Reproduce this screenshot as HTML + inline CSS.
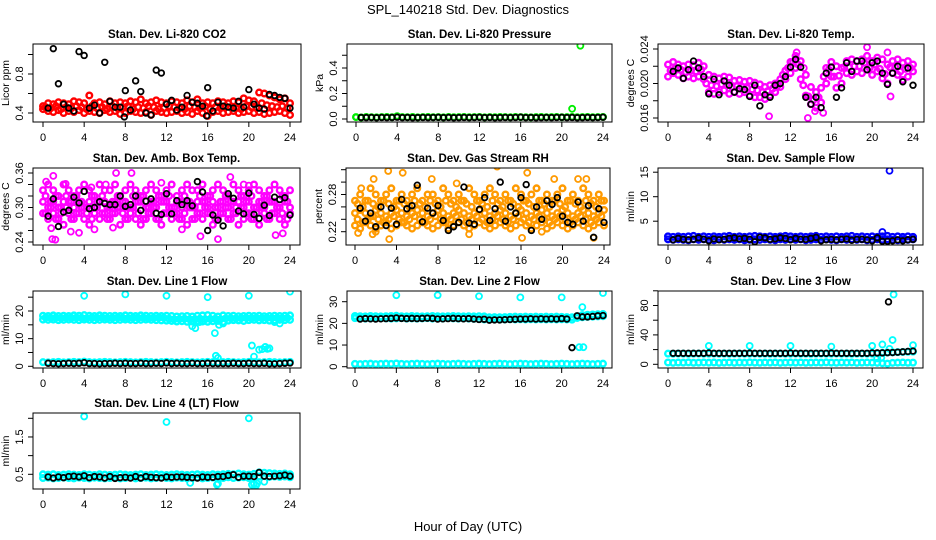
<!DOCTYPE html>
<html><head><meta charset="utf-8"><style>
html,body{margin:0;padding:0;background:#fff}
svg{display:block;font-family:"Liberation Sans",Arial,sans-serif}
</style></head><body>
<svg id="chart" width="936" height="540" viewBox="0 0 936 540">
<rect width="936" height="540" fill="#fff"/>
<text x="468" y="14" text-anchor="middle" font-size="13">SPL_140218  Std. Dev. Diagnostics</text>
<text x="468" y="531" text-anchor="middle" font-size="13">Hour of Day (UTC)</text>
</svg>
<script>
// shared x categories (hours)
const hoursA = [0,0.5,1,1.5,2,2.5,3,3.5,4,4.5,5,5.5,6,6.5,7,7.5,8,8.5,9,9.5,10,10.5,11,11.5,12,12.5,13,13.5,14,14.5,15,15.5,16,16.5,17,17.5,18,18.5,19,19.5,20,20.5,21,21.5,22,22.5,23,23.5,24];
const hoursK = [0.5,1,1.5,2,2.5,3,3.5,4,4.5,5,5.5,6,6.5,7,7.5,8,8.5,9,9.5,10,10.5,11,11.5,12,12.5,13,13.5,14,14.5,15,15.5,16,16.5,17,17.5,18,18.5,19,19.5,20,20.5,21,21.5,22,22.5,23,23.5,24];
const hoursQ = [0.25,0.75,1.25,1.75,2.25,2.75,3.25,3.75,4.25,4.75,5.25,5.75,6.25,6.75,7.25,7.75,8.25,8.75,9.25,9.75,10.25,10.75,11.25,11.75,12.25,12.75,13.25,13.75,14.25,14.75,15.25,15.75,16.25,16.75,17.25,17.75,18.25,18.75,19.25,19.75,20.25,20.75,21.25,21.75,22.25,22.75,23.25,23.75];
const xTicks = [0,4,8,12,16,20,24];

// P1 CO2
const co2Hi = [0.47,0.50,0.49,0.51,0.50,0.49,0.52,0.51,0.50,0.58,0.50,0.51,0.49,0.52,0.50,0.51,0.50,0.52,0.51,0.54,0.50,0.51,0.53,0.51,0.50,0.52,0.51,0.50,0.53,0.51,0.54,0.50,0.51,0.50,0.52,0.51,0.50,0.52,0.51,0.55,0.53,0.52,0.61,0.60,0.58,0.56,0.54,0.55,0.50];
const co2Lo = [0.44,0.42,0.41,0.43,0.40,0.42,0.41,0.43,0.40,0.42,0.41,0.40,0.43,0.41,0.42,0.39,0.40,0.42,0.41,0.40,0.41,0.38,0.42,0.41,0.40,0.41,0.42,0.40,0.41,0.39,0.42,0.40,0.37,0.41,0.42,0.40,0.41,0.42,0.40,0.41,0.42,0.40,0.41,0.39,0.40,0.41,0.42,0.40,0.38];
const co2Q = [0.46,0.45,0.47,0.44,0.46,0.45,0.47,0.46,0.44,0.47,0.45,0.46,0.44,0.47,0.45,0.46,0.47,0.44,0.46,0.45,0.47,0.46,0.44,0.45,0.47,0.46,0.45,0.44,0.47,0.46,0.45,0.47,0.44,0.46,0.45,0.47,0.46,0.45,0.44,0.47,0.46,0.45,0.50,0.48,0.47,0.46,0.47,0.45];
const co2Black = [0.45,1.06,0.70,0.49,0.45,0.42,1.03,0.99,0.45,0.48,0.40,0.92,0.52,0.46,0.46,0.63,0.43,0.73,0.62,0.40,0.38,0.84,0.81,0.49,0.53,0.43,0.46,0.58,0.51,0.50,0.47,0.66,0.42,0.51,0.47,0.46,0.45,0.52,0.46,0.64,0.49,0.45,0.44,0.59,0.58,0.56,0.55,0.45];
const co2OutT = [7.9,15.9];
const co2OutV = [0.36,0.37];
// P2 Pressure
const presCol = [0.015,0.012,0.016,0.014,0.013,0.015,0.016,0.014,0.022,0.015,0.014,0.016,0.013,0.015,0.016,0.014,0.015,0.013,0.016,0.014,0.015,0.016,0.014,0.015,0.016,0.013,0.015,0.014,0.016,0.015,0.014,0.016,0.015,0.014,0.013,0.015,0.016,0.014,0.015,0.016,0.014,0.015,0.016,0.014,0.015,0.016,0.014,0.015,0.016];
const presBlack = [0.012,0.011,0.012,0.010,0.012,0.011,0.012,0.014,0.011,0.012,0.010,0.011,0.012,0.011,0.012,0.013,0.011,0.012,0.010,0.011,0.012,0.011,0.012,0.013,0.011,0.012,0.010,0.011,0.012,0.011,0.012,0.014,0.011,0.012,0.010,0.011,0.012,0.011,0.012,0.013,0.011,0.012,0.010,0.011,0.012,0.011,0.012,0.014];
const presOutT = [21.0,21.8];
const presOutV = [0.08,0.575];
// P3 Li-820 temp
const ltHi = [0.0222,0.0225,0.0222,0.0220,0.0222,0.0221,0.0224,0.0220,0.0210,0.0208,0.0206,0.0208,0.0207,0.0203,0.0204,0.0202,0.0203,0.0201,0.0199,0.0196,0.0198,0.0200,0.0205,0.0215,0.0225,0.0232,0.0226,0.0210,0.0196,0.0190,0.0195,0.0218,0.0225,0.0220,0.0218,0.0226,0.0228,0.0226,0.0228,0.0232,0.0226,0.0230,0.0228,0.0222,0.0226,0.0228,0.0224,0.0226,0.0222];
const ltLo = [0.0208,0.0212,0.0210,0.0206,0.0208,0.0206,0.0208,0.0205,0.0190,0.0188,0.0190,0.0192,0.0188,0.0190,0.0188,0.0190,0.0186,0.0184,0.0184,0.0182,0.0186,0.0190,0.0196,0.0205,0.0212,0.0218,0.0205,0.0186,0.0176,0.0172,0.0178,0.0200,0.0208,0.0195,0.0200,0.0212,0.0210,0.0214,0.0212,0.0216,0.0210,0.0214,0.0206,0.0200,0.0212,0.0210,0.0204,0.0208,0.0214];
const ltQ = [0.0215,0.0218,0.0216,0.0213,0.0215,0.0214,0.0216,0.0200,0.0198,0.0197,0.0199,0.0198,0.0196,0.0197,0.0196,0.0195,0.0193,0.0192,0.0190,0.0191,0.0194,0.0198,0.0210,0.0218,0.0225,0.0222,0.0198,0.0185,0.0181,0.0184,0.0208,0.0216,0.0208,0.0209,0.0219,0.0219,0.0220,0.0220,0.0224,0.0218,0.0222,0.0217,0.0211,0.0219,0.0219,0.0214,0.0217,0.0218];
const ltBlack = [0.0214,0.0218,0.0206,0.0216,0.0226,0.0218,0.0208,0.0188,0.0205,0.0187,0.0203,0.0198,0.0190,0.0194,0.0193,0.0185,0.0198,0.0174,0.0187,0.0184,0.0198,0.0200,0.0208,0.0219,0.0228,0.0219,0.0184,0.0176,0.0184,0.0172,0.0212,0.0219,0.0184,0.0195,0.0224,0.0214,0.0226,0.0226,0.0216,0.0224,0.0226,0.0212,0.0199,0.0212,0.0220,0.0202,0.0218,0.0198];
const ltOutT = [9.9,13.7,19.5,12.6,21.5,15.2,14.4,21.8,13.3];
const ltOutV = [0.0162,0.0160,0.0242,0.0236,0.0236,0.0166,0.0168,0.0185,0.0218];
// P4 Amb box temp
const abHi = [0.33,0.34,0.33,0.32,0.34,0.33,0.32,0.33,0.34,0.33,0.32,0.34,0.33,0.33,0.34,0.32,0.33,0.34,0.33,0.32,0.33,0.34,0.33,0.32,0.33,0.34,0.32,0.33,0.34,0.33,0.33,0.34,0.32,0.33,0.34,0.33,0.32,0.34,0.33,0.32,0.33,0.34,0.33,0.32,0.33,0.34,0.33,0.32,0.33];
const abMid = [0.31,0.30,0.31,0.30,0.31,0.31,0.30,0.31,0.30,0.31,0.30,0.31,0.31,0.30,0.31,0.30,0.31,0.30,0.31,0.31,0.30,0.31,0.30,0.31,0.31,0.30,0.31,0.30,0.31,0.30,0.31,0.31,0.30,0.31,0.30,0.31,0.30,0.31,0.31,0.30,0.31,0.30,0.31,0.30,0.31,0.31,0.30,0.31,0.30];
const abLo = [0.29,0.28,0.29,0.28,0.27,0.29,0.28,0.29,0.28,0.27,0.29,0.28,0.29,0.28,0.29,0.27,0.28,0.29,0.28,0.27,0.28,0.29,0.28,0.27,0.29,0.28,0.29,0.28,0.27,0.28,0.29,0.28,0.29,0.27,0.28,0.29,0.28,0.29,0.27,0.28,0.29,0.28,0.27,0.29,0.28,0.29,0.28,0.27,0.29];
const abQ1 = [0.32,0.31,0.32,0.30,0.32,0.31,0.32,0.31,0.30,0.32,0.31,0.32,0.30,0.31,0.32,0.31,0.30,0.32,0.31,0.32,0.30,0.31,0.32,0.31,0.32,0.30,0.31,0.32,0.31,0.30,0.32,0.31,0.32,0.30,0.31,0.32,0.31,0.30,0.32,0.31,0.32,0.30,0.31,0.32,0.31,0.30,0.32,0.31];
const abQ2 = [0.29,0.30,0.28,0.29,0.30,0.28,0.29,0.30,0.29,0.28,0.30,0.29,0.28,0.29,0.30,0.29,0.28,0.30,0.29,0.28,0.29,0.30,0.28,0.29,0.30,0.29,0.28,0.29,0.30,0.28,0.29,0.30,0.29,0.28,0.29,0.30,0.28,0.29,0.30,0.29,0.28,0.29,0.30,0.28,0.29,0.30,0.29,0.28];
const abBlack = [0.285,0.315,0.267,0.292,0.295,0.318,0.308,0.328,0.298,0.300,0.310,0.307,0.305,0.305,0.320,0.302,0.305,0.320,0.295,0.311,0.315,0.290,0.288,0.324,0.289,0.312,0.305,0.312,0.303,0.345,0.327,0.260,0.287,0.278,0.268,0.324,0.316,0.294,0.289,0.325,0.288,0.281,0.304,0.286,0.318,0.314,0.317,0.287];
const abOutT = [0.3,1.0,0.9,1.2,2.2,2.7,3.5,4.7,6.1,7.1,8.6,5.0,11.5,15.3,17.0,18.2,19.5,22.6,23.3,20.0,0.8,6.8,13.5];
const abOutV = [0.345,0.355,0.245,0.244,0.341,0.258,0.256,0.335,0.340,0.360,0.360,0.262,0.343,0.250,0.245,0.353,0.340,0.252,0.255,0.338,0.264,0.265,0.262];
// P5 Gas stream RH
const rhHi = [0.27,0.28,0.27,0.29,0.28,0.27,0.28,0.29,0.27,0.28,0.27,0.28,0.29,0.27,0.28,0.28,0.27,0.29,0.28,0.27,0.28,0.27,0.29,0.28,0.27,0.28,0.29,0.28,0.27,0.28,0.27,0.29,0.28,0.27,0.28,0.29,0.27,0.28,0.27,0.28,0.29,0.27,0.28,0.27,0.29,0.28,0.27,0.28,0.27];
const rhMid = [0.25,0.255,0.25,0.245,0.255,0.25,0.245,0.25,0.255,0.25,0.245,0.25,0.255,0.25,0.245,0.25,0.255,0.25,0.245,0.25,0.255,0.25,0.245,0.25,0.255,0.25,0.245,0.25,0.255,0.25,0.245,0.25,0.255,0.25,0.245,0.25,0.255,0.25,0.245,0.25,0.255,0.25,0.245,0.25,0.255,0.25,0.245,0.25,0.255];
const rhLo = [0.23,0.225,0.235,0.23,0.225,0.23,0.235,0.225,0.23,0.235,0.23,0.225,0.23,0.235,0.23,0.225,0.23,0.235,0.225,0.23,0.235,0.23,0.225,0.23,0.235,0.23,0.225,0.23,0.235,0.23,0.225,0.23,0.235,0.23,0.225,0.23,0.235,0.225,0.23,0.235,0.23,0.225,0.23,0.235,0.23,0.225,0.23,0.235,0.23];
const rhQ1 = [0.265,0.26,0.27,0.265,0.26,0.27,0.265,0.26,0.27,0.265,0.26,0.27,0.265,0.26,0.27,0.265,0.26,0.27,0.265,0.26,0.27,0.265,0.26,0.27,0.265,0.26,0.27,0.265,0.26,0.27,0.265,0.26,0.27,0.265,0.26,0.27,0.265,0.26,0.27,0.265,0.26,0.27,0.265,0.26,0.27,0.265,0.26,0.27];
const rhQ2 = [0.24,0.235,0.24,0.245,0.24,0.235,0.24,0.245,0.24,0.235,0.24,0.245,0.24,0.235,0.24,0.245,0.24,0.235,0.24,0.245,0.24,0.235,0.24,0.245,0.24,0.235,0.24,0.245,0.24,0.235,0.24,0.245,0.24,0.235,0.24,0.245,0.24,0.235,0.24,0.245,0.24,0.235,0.24,0.245,0.24,0.235,0.24,0.245];
const rhBlack = [0.258,0.237,0.25,0.228,0.26,0.23,0.258,0.232,0.272,0.257,0.262,0.295,0.236,0.258,0.25,0.262,0.238,0.222,0.228,0.235,0.292,0.234,0.232,0.256,0.275,0.238,0.257,0.30,0.237,0.26,0.25,0.275,0.296,0.222,0.26,0.24,0.27,0.264,0.275,0.245,0.235,0.232,0.268,0.237,0.262,0.211,0.257,0.235];
const rhOutT = [3.2,4.6,1.8,7.4,13.7,16.6,22.3,3.3,0.3,1.7,11.0,16.1,23.0,9.8,21.5,19.2,2.0,18.0,0.6];
const rhOutV = [0.318,0.315,0.305,0.305,0.325,0.315,0.305,0.208,0.218,0.216,0.216,0.210,0.210,0.298,0.305,0.305,0.22,0.22,0.29];
// P6 Sample flow
const sfHi = [1.9,1.8,1.9,1.8,1.9,2.0,1.8,1.9,1.8,1.9,1.8,1.9,2.0,1.8,1.9,1.8,1.9,2.0,1.9,1.8,1.9,1.8,1.9,2.0,1.9,1.8,1.9,1.8,1.9,2.0,1.8,1.9,1.8,1.9,1.8,1.9,2.0,1.8,1.9,1.8,1.9,1.8,1.9,2.0,1.8,1.9,1.8,1.9,1.8];
const sfLo = [1.3,1.2,1.3,1.2,1.1,1.3,1.2,1.3,1.2,1.1,1.3,1.2,1.3,1.2,1.3,1.1,1.2,1.3,1.2,1.3,1.2,1.1,1.3,1.2,1.3,1.2,1.3,1.1,1.2,1.3,1.2,1.3,1.2,1.1,1.3,1.2,1.3,1.2,1.3,1.1,1.2,1.3,1.2,1.3,1.2,1.1,1.3,1.2,1.3];
const sfBlack = [1.2,1.5,1.3,1.2,1.3,1.6,1.3,1.0,1.4,1.2,1.3,1.5,1.6,1.4,1.5,1.3,0.8,1.7,1.6,1.3,1.4,1.6,1.5,1.2,1.5,1.3,1.3,1.5,1.7,1.0,1.2,1.3,1.2,1.3,1.4,1.1,1.3,1.3,1.2,1.0,1.6,0.9,0.9,1.0,1.2,1.0,1.2,1.3];
const sfOutT = [21.0,21.7];
const sfOutV = [2.8,15.3];
// P7 Line 1 flow
const l1Hi = [18.3,18.2,18.4,18.2,18.3,18.2,18.4,18.3,18.5,18.3,18.2,18.4,18.3,18.2,18.3,18.2,18.4,18.3,18.2,18.4,18.3,18.2,18.3,18.2,18.3,18.2,18.0,18.1,18.2,18.0,18.3,18.4,18.5,18.3,18.0,18.4,18.2,18.3,18.1,18.2,18.3,18.2,18.3,18.1,18.2,18.3,18.2,18.3,18.4];
const l1Lo = [16.9,16.8,16.9,16.7,16.8,16.9,16.8,16.7,16.9,16.8,16.7,16.8,16.9,16.8,16.7,16.8,16.9,16.8,16.7,16.8,16.9,16.8,16.7,16.6,16.5,16.4,16.2,16.3,16.1,16.2,16.4,16.2,16.1,16.3,16.4,16.0,16.5,16.7,16.6,16.4,16.7,16.8,16.6,16.7,16.5,16.6,16.8,16.7,16.8];
const l1Low = [1.5,1.4,1.5,1.6,1.4,1.5,1.6,1.5,1.7,1.5,1.4,1.5,1.6,1.5,1.4,1.5,1.6,1.5,1.4,1.5,1.6,1.5,1.4,1.5,1.6,1.5,1.4,1.5,1.6,1.5,1.4,1.5,1.6,1.5,1.4,1.5,1.6,1.5,1.4,1.5,1.6,1.5,1.4,1.5,1.6,1.5,1.4,1.5,1.6];
const l1Q = [17.6,17.5,17.6,17.4,17.6,17.5,17.6,17.5,17.4,17.6,17.5,17.6,17.4,17.5,17.6,17.5,17.4,17.6,17.5,17.6,17.4,17.5,17.6,17.5,17.2,17.0,17.1,17.2,17.0,17.1,17.2,17.0,17.1,17.2,17.0,17.3,17.4,17.3,17.4,17.5,17.4,17.5,17.4,17.5,17.4,17.5,17.4,17.5];
const l1Black = [1.1,1.0,0.9,1.0,1.1,1.0,1.1,1.3,1.0,1.0,0.9,1.0,1.0,1.1,1.0,1.1,1.0,1.0,1.1,1.0,1.0,1.1,1.0,1.2,1.0,1.1,1.0,1.0,1.1,1.0,1.0,1.1,1.0,1.0,1.0,1.0,1.1,1.0,1.0,1.1,1.0,1.0,1.1,0.9,0.9,1.0,1.1,1.2];
const l1OutT = [4,8,12,16,20,24,14.5,14.8,16.7,16.8,17.0,20.3,20.5,21.0,21.3,21.6,22.0,22.5,17.5,17.1,15.2,23.0,21.8];
const l1OutV = [25.5,26,25.5,25,25.5,27,14.5,13.8,12,3.8,3.0,7.5,3.5,6.0,6.2,7.0,6.5,16,15.5,15,16,15.5,6.3];
// P8 Line 2 flow
const l2Hi = [23.4,23.3,23.2,23.4,23.3,23.2,23.3,23.4,23.5,23.3,23.2,23.4,23.3,23.2,23.3,23.4,23.3,23.2,23.3,23.4,23.3,23.2,23.3,23.2,23.3,23.2,22.8,22.9,22.8,22.9,23.0,23.1,23.0,23.1,23.0,23.1,23.0,23.1,23.0,23.1,23.0,22.9,22.8,23.3,23.8,24.0,24.1,24.2,24.3];
const l2Lo = [22.4,22.3,22.2,22.3,22.2,22.4,22.3,22.2,22.3,22.4,22.2,22.3,22.2,22.3,22.4,22.2,22.3,22.2,22.4,22.3,22.2,22.3,22.2,22.1,22.0,21.8,21.7,21.8,21.7,21.8,21.9,21.8,21.9,21.8,21.9,21.8,21.9,21.8,21.9,21.8,21.9,21.8,21.7,22.5,22.8,23.0,23.1,23.2,23.3];
const l2Low = [1.3,1.2,1.3,1.4,1.2,1.3,1.4,1.3,1.5,1.3,1.2,1.3,1.4,1.3,1.2,1.3,1.4,1.3,1.2,1.3,1.4,1.3,1.2,1.3,1.4,1.3,1.2,1.3,1.4,1.3,1.2,1.3,1.4,1.3,1.2,1.3,1.4,1.3,1.2,1.3,1.4,1.3,1.2,1.3,1.4,1.3,1.2,1.3,1.4];
const l2Black = [22.0,22.2,22.1,22.0,22.1,22.2,22.3,22.5,22.3,22.2,22.3,22.2,22.3,22.4,22.3,22.0,22.1,22.2,22.3,22.2,22.1,22.2,22.0,21.8,21.9,21.5,21.6,21.6,21.7,21.8,21.9,22.0,22.0,22.1,22.0,22.1,22.0,22.1,22.0,22.2,22.0,8.8,23.5,23.0,23.0,23.2,23.5,23.6];
const l2OutT = [4,8,12,16,20,24,22.0,21.7,22.1];
const l2OutV = [33,33,32.5,32,32,34,27.5,9,9];
// P9 Line 3 flow
const l3Hi = [14.5,14.4,14.6,14.5,14.3,14.5,14.6,14.4,14.5,14.6,14.4,14.5,14.3,14.5,14.6,14.4,14.5,14.6,14.4,14.5,14.3,14.5,14.6,14.4,14.5,14.6,14.4,14.5,14.3,14.5,14.6,14.4,14.5,14.6,14.4,14.5,14.3,14.5,14.6,14.4,14.5,15.0,15.5,16.0,16.2,16.5,16.8,17.0,17.2];
const l3Low = [2.5,2.0,2.4,2.2,2.6,2.1,2.3,2.5,2.2,2.4,2.0,2.3,2.5,2.1,2.4,2.2,2.6,2.3,2.1,2.4,2.2,2.5,2.0,2.3,2.4,2.2,2.5,2.1,2.3,2.4,2.2,2.6,2.3,2.1,2.4,2.2,2.5,2.0,2.3,2.4,2.2,2.0,1.5,1.0,2.0,2.2,2.4,2.1,2.3];
const l3Black = [15,15,15,15,15,15,15,15.5,15,15,15,15,15,15,15,15.2,15,15,15,15,15,15,15,15.3,15,15,15,15,15,15,15,15.2,15,15,15,15,15,15,15,15.5,15.5,15.6,15.8,16.0,16.5,17.0,17.5,18.0];
const l3OutT = [4,8,12,16,20,21,22,22.1,21.7,24,20.5,20.9];
const l3OutV = [25,25,25,24,25,27,33,95,21,26,8,9];
const l3BOutT = [21.6];
const l3BOutV = [85];
// P10 Line 4 flow
const l4Hi = [0.50,0.49,0.50,0.48,0.49,0.50,0.49,0.48,0.50,0.49,0.48,0.50,0.49,0.48,0.49,0.50,0.49,0.48,0.49,0.50,0.48,0.49,0.50,0.49,0.48,0.49,0.50,0.49,0.48,0.49,0.50,0.49,0.48,0.50,0.49,0.50,0.51,0.50,0.52,0.50,0.49,0.51,0.55,0.54,0.53,0.52,0.51,0.52,0.50];
const l4Lo = [0.40,0.41,0.39,0.40,0.41,0.40,0.39,0.41,0.40,0.39,0.41,0.40,0.39,0.40,0.41,0.39,0.40,0.41,0.39,0.40,0.41,0.39,0.40,0.41,0.40,0.39,0.41,0.40,0.39,0.40,0.41,0.39,0.40,0.41,0.39,0.40,0.42,0.40,0.41,0.42,0.40,0.41,0.44,0.45,0.43,0.44,0.43,0.44,0.42];
const l4Black = [0.43,0.40,0.43,0.41,0.44,0.45,0.43,0.46,0.41,0.44,0.43,0.40,0.44,0.39,0.41,0.42,0.40,0.44,0.40,0.44,0.42,0.41,0.40,0.43,0.42,0.43,0.43,0.42,0.41,0.40,0.43,0.42,0.42,0.44,0.44,0.47,0.49,0.42,0.45,0.45,0.44,0.55,0.45,0.44,0.45,0.46,0.48,0.45];
const l4OutT = [4,12,20,14.3,17.0,16.9,20.3,20.7,20.8,21.5,20.5];
const l4OutV = [2.05,1.9,2.0,0.27,0.25,0.22,0.22,0.2,0.25,0.3,0.24];

const NS = 'http://www.w3.org/2000/svg';
const svg = document.getElementById('chart');
function mk(tag, attrs, parent){const e=document.createElementNS(NS,tag);for(const k in attrs)e.setAttribute(k,attrs[k]);(parent||svg).appendChild(e);return e;}

const panels = [
 {name:'co2',title:'Stan. Dev. Li-820 CO2',ylab:'Licor ppm',box:[33,301,44,122],xp:[43,290],ym:[0.4,113,0.8,74],ticks:[0.4,0.6,0.8,1.0],labs:[[0.4,'0.4'],[0.8,'0.8']],color:'#ff0000',
  cols:[co2Hi,co2Lo],qcols:[co2Q],black:co2Black,outT:[],outV:[],bOutT:co2OutT,bOutV:co2OutV},
 {name:'pressure',title:'Stan. Dev. Li-820 Pressure',ylab:'kPa',box:[347,612,44,122],xp:[356,603],ym:[0,119,0.4,68],ticks:[0,0.1,0.2,0.3,0.4,0.5],labs:[[0,'0.0'],[0.2,'0.2'],[0.4,'0.4']],color:'#00ee00',
  cols:[presCol],qcols:[],black:presBlack,outT:presOutT,outV:presOutV,bOutT:[],bOutV:[]},
 {name:'li820-temp',title:'Stan. Dev. Li-820 Temp.',ylab:'degrees C',box:[658,924,44,122],xp:[668,913],ym:[0.016,118,0.024,49],ticks:[0.016,0.018,0.020,0.022,0.024],labs:[[0.016,'0.016'],[0.020,'0.020'],[0.024,'0.024']],color:'#ff00ff',
  cols:[ltHi,ltLo],qcols:[ltQ],black:ltBlack,outT:ltOutT,outV:ltOutV,bOutT:[],bOutV:[]},
 {name:'amb-box-temp',title:'Stan. Dev. Amb. Box Temp.',ylab:'degrees C',box:[33,300,168,245],xp:[43,290],ym:[0.24,242,0.36,173],ticks:[0.24,0.26,0.28,0.30,0.32,0.34,0.36],labs:[[0.24,'0.24'],[0.30,'0.30'],[0.36,'0.36']],color:'#ff00ff',
  cols:[abHi,abMid,abLo],qcols:[abQ1,abQ2],black:abBlack,outT:abOutT,outV:abOutV,bOutT:[],bOutV:[]},
 {name:'gas-stream-rh',title:'Stan. Dev. Gas Stream RH',ylab:'percent',box:[346,610,168,245],xp:[355,604],ym:[0.22,231.7,0.28,194.5],ticks:[0.22,0.24,0.26,0.28,0.30,0.32],labs:[[0.22,'0.22'],[0.28,'0.28']],color:'#ff9a00',
  cols:[rhHi,rhMid,rhLo],qcols:[rhQ1,rhQ2],black:rhBlack,outT:rhOutT,outV:rhOutV,bOutT:[],bOutV:[]},
 {name:'sample-flow',title:'Stan. Dev. Sample Flow',ylab:'ml/min',box:[658,923,168,245],xp:[668,913],ym:[0,245.7,15,172.2],ticks:[5,10,15],labs:[[5,'5'],[10,'10'],[15,'15']],color:'#0000ff',
  cols:[sfHi,sfLo],qcols:[],black:sfBlack,outT:sfOutT,outV:sfOutV,bOutT:[],bOutV:[]},
 {name:'line1-flow',title:'Stan. Dev. Line 1 Flow',ylab:'ml/min',box:[33,301,291,368],xp:[43,290],ym:[0,366.3,20,311],ticks:[0,5,10,15,20,25],labs:[[0,'0'],[10,'10'],[20,'20']],color:'#00ffff',
  cols:[l1Hi,l1Lo,l1Low],qcols:[l1Q],black:l1Black,outT:l1OutT,outV:l1OutV,bOutT:[],bOutV:[]},
 {name:'line2-flow',title:'Stan. Dev. Line 2 Flow',ylab:'ml/min',box:[347,612,291,368],xp:[355,603],ym:[0,366.7,30,301.7],ticks:[0,10,20,30],labs:[[0,'0'],[10,'10'],[20,'20'],[30,'30']],color:'#00ffff',
  cols:[l2Hi,l2Lo,l2Low],qcols:[],black:l2Black,outT:l2OutT,outV:l2OutV,bOutT:[],bOutV:[]},
 {name:'line3-flow',title:'Stan. Dev. Line 3 Flow',ylab:'ml/min',box:[658,923,291,368],xp:[668,913],ym:[0,364.3,80,305.5],ticks:[0,20,40,60,80,100],labs:[[0,'0'],[40,'40'],[80,'80']],color:'#00ffff',
  cols:[l3Hi,l3Low],qcols:[],black:l3Black,outT:l3OutT,outV:l3OutV,bOutT:l3BOutT,bOutV:l3BOutV},
 {name:'line4-flow',title:'Stan. Dev. Line 4 (LT) Flow',ylab:'ml/min',box:[33,300,413,489],xp:[43,290],ym:[0.5,474.3,2.0,418.3],ticks:[0.5,1.0,1.5,2.0],labs:[[0.5,'0.5'],[1.5,'1.5']],color:'#00ffff',
  cols:[l4Hi,l4Lo],qcols:[],black:l4Black,outT:l4OutT,outV:l4OutV,bOutT:[],bOutV:[]}
];

panels.forEach(p=>{
  const [L,R,T,B]=p.box;
  const xs = h => p.xp[0] + (p.xp[1]-p.xp[0])*h/24;
  const ys = v => p.ym[1] + (p.ym[3]-p.ym[1])*(v-p.ym[0])/(p.ym[2]-p.ym[0]);
  const g = mk('g',{});
  
  
  const cx=(L+R)/2;
  const t = mk('text',{x:cx,y:T-6,'text-anchor':'middle','font-size':'11.5','font-weight':'bold'},g);
  t.textContent=p.title;
  
  
  const clip = mk('clipPath',{id:'c-'+p.name},g);
  mk('rect',{x:L,y:T,width:R-L,height:B-T},clip);
  const pts = mk('g',{'clip-path':'url(#c-'+p.name+')'},g);
  
  
  p.cols.forEach(arr=>{
    arr.forEach((v,i)=>{
      const c=mk('circle',{cx:xs(hoursA[i]),cy:ys(v),r:2.8,fill:'none',stroke:p.color,'stroke-width':2.4},pts);
      
      
    });
  });
  p.qcols.forEach(arr=>{
    arr.forEach((v,i)=>{
      const c=mk('circle',{cx:xs(hoursQ[i]),cy:ys(v),r:2.8,fill:'none',stroke:p.color,'stroke-width':2.4},pts);
      
      
    });
  });
  p.outT.forEach((h,i)=>{
    const c=mk('circle',{cx:xs(h),cy:ys(p.outV[i]),r:3,fill:'none',stroke:p.color,'stroke-width':1.8},pts);
    
    
  });
  p.black.forEach((v,i)=>{
    const c=mk('circle',{cx:xs(hoursK[i]),cy:ys(v),r:2.8,fill:'none',stroke:'#000','stroke-width':1.8},pts);
    
    
  });
  p.bOutT.forEach((h,i)=>{
    const c=mk('circle',{cx:xs(h),cy:ys(p.bOutV[i]),r:2.8,fill:'none',stroke:'#000','stroke-width':1.8},pts);
    
    
  });
  const box = mk('rect',{x:L,y:T,width:R-L,height:B-T,fill:'none',stroke:'#000','stroke-width':1},g);
  
  
  const xa = mk('g',{},g);
  
  
  mk('line',{x1:xs(0),x2:xs(24),y1:B,y2:B,stroke:'#000'},xa);
  xTicks.forEach(h=>{
    mk('line',{x1:xs(h),x2:xs(h),y1:B,y2:B+5,stroke:'#000'},xa);
    const tl=mk('text',{x:xs(h),y:B+19,'text-anchor':'middle','font-size':'11'},xa);
    tl.textContent=h;
    
    
  });
  const ya = mk('g',{},g);
  
  
  const tk=p.ticks;
  mk('line',{x1:L,x2:L,y1:ys(tk[0]),y2:ys(tk[tk.length-1]),stroke:'#000'},ya);
  tk.forEach(v=>mk('line',{x1:L-5,x2:L,y1:ys(v),y2:ys(v),stroke:'#000'},ya));
  p.labs.forEach(([v,s])=>{
    const x=L-10, y=ys(v);
    const tl=mk('text',{x:x,y:y,'text-anchor':'middle','font-size':'11',transform:'rotate(-90 '+x+' '+y+')'},ya);
    tl.textContent=s;
    
    
  });
  const yx=L-24, yy=(T+B)/2;
  const yl=mk('text',{x:yx,y:yy,'text-anchor':'middle','font-size':'10.5',transform:'rotate(-90 '+yx+' '+yy+')'},g);
  yl.textContent=p.ylab;
  
  
});
</script>
</body></html>
